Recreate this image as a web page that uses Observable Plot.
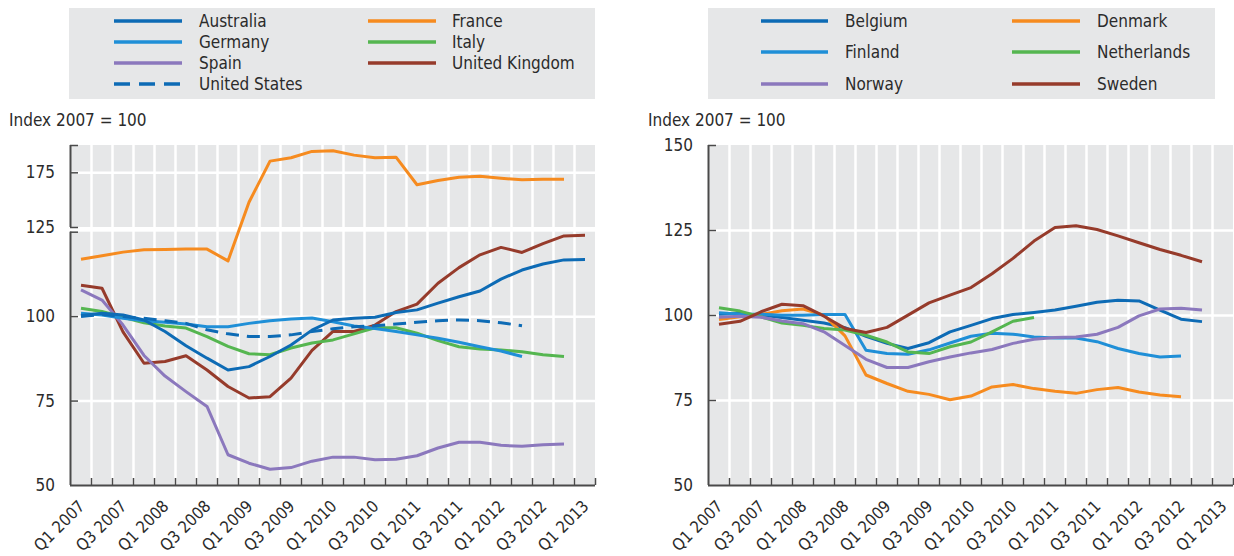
<!DOCTYPE html>
<html>
<head>
<meta charset="utf-8">
<script src="https://cdn.jsdelivr.net/npm/d3@7"></script>
<script src="https://cdn.jsdelivr.net/npm/@observablehq/plot@0.6"></script>
<style>
  body { margin: 0; background: #fff; }
  #root { position: relative; width: 1234px; height: 556px; overflow: hidden;
          font-family: "DejaVu Sans Condensed", "DejaVu Sans", sans-serif; font-stretch: condensed; color: #2b2b2b; }
  .box { position: absolute; background: #e6e7e8; }
  .lbl { position: absolute; font-size: 17px; line-height: 20px; white-space: nowrap; }
  .panel { position: absolute; top: 130px; }
</style>
</head>
<body>
<div id="root"></div>
<script>
// ---------- DATA ----------
const quarters = ["Q1 2007","Q2 2007","Q3 2007","Q4 2007","Q1 2008","Q2 2008","Q3 2008","Q4 2008",
  "Q1 2009","Q2 2009","Q3 2009","Q4 2009","Q1 2010","Q2 2010","Q3 2010","Q4 2010",
  "Q1 2011","Q2 2011","Q3 2011","Q4 2011","Q1 2012","Q2 2012","Q3 2012","Q4 2012","Q1 2013"];
const shownQuarterLabels = ["Q1 2007","Q3 2007","Q1 2008","Q3 2008","Q1 2009","Q3 2009","Q1 2010",
  "Q3 2010","Q1 2011","Q3 2011","Q1 2012","Q3 2012","Q1 2013"];
const yAxisTitle = "Index 2007 = 100";

// Left panel (broken axis: lower segment 50–125, compressed upper segment 125–200)
const leftLowerTicks = [50, 75, 100, 125];
const leftUpperTicks = [125, 175, 200];
const leftLowerLabels = [50, 75, 100];
const leftUpperLabels = [125, 175];

const australia = [100.3,101.0,100.5,99.0,95.6,91.4,87.7,84.2,85.2,88.2,91.6,96.0,99.0,99.5,99.8,101.2,102.0,104.0,105.9,107.6,111.1,113.8,115.6,116.8,116.9];
const france = [117.0,118.0,119.1,119.8,119.9,120.0,120.0,116.5,148.1,185.7,188.8,194.6,195.2,191.2,188.8,189.3,164.1,168.0,171.0,171.9,170.1,168.6,169.2,169.2];
const germany = [101.0,100.5,99.5,98.8,98.3,97.8,97.0,97.0,98.0,98.8,99.3,99.6,98.5,97.2,96.5,95.6,94.6,93.6,92.4,91.1,89.8,88.2];
const italy = [102.5,101.5,99.8,98.2,97.2,96.6,94.1,91.2,89.0,88.7,90.7,92.2,93.1,94.9,96.7,96.7,95.1,92.9,91.1,90.4,90.1,89.6,88.7,88.2];
const spain = [107.9,104.9,97.5,88.5,82.4,77.8,73.4,59.1,56.6,54.8,55.3,57.2,58.4,58.4,57.6,57.8,58.8,61.1,62.8,62.8,61.9,61.6,62.1,62.3];
const unitedKingdom = [109.3,108.4,95.5,86.2,86.7,88.4,84.2,79.3,75.9,76.3,81.8,90.0,95.6,95.6,97.5,101.5,103.7,109.9,114.5,118.3,120.5,119.0,121.6,123.9,124.1];
const unitedStates = [100.0,100.7,100.0,99.5,98.8,98.0,96.1,94.9,94.1,94.1,94.6,95.6,96.4,97.0,97.3,97.8,98.3,98.8,99.0,98.8,98.2,97.3];

// Right panel
const rightTicks = [50, 75, 100, 125, 150];
const belgium = [100.4,100.6,100.1,99.4,98.6,97.8,96.4,93.9,91.8,90.3,92.0,95.2,97.1,99.1,100.3,100.9,101.6,102.7,103.9,104.5,104.3,101.6,98.9,98.2];
const denmark = [98.8,99.6,100.3,101.4,101.9,100.1,94.0,82.5,80.0,77.7,76.8,75.2,76.3,79.0,79.7,78.5,77.7,77.1,78.2,78.8,77.5,76.6,76.1];
const finland = [100.8,100.4,100.4,100.1,100.1,100.3,100.3,89.8,88.8,88.6,89.9,91.9,93.9,94.8,94.5,93.7,93.4,93.4,92.3,90.3,88.8,87.8,88.1];
const netherlands = [102.3,101.3,99.6,97.8,97.1,96.2,95.7,94.2,92.2,89.3,88.8,90.8,92.2,95.2,98.3,99.4];
const norway = [99.5,99.8,99.5,98.4,97.6,95.2,91.2,87.1,84.7,84.7,86.4,87.8,89.0,90.0,91.8,93.0,93.5,93.7,94.5,96.5,99.9,101.9,102.1,101.6];
const sweden = [97.4,98.3,101.1,103.3,102.9,99.8,96.2,95.0,96.5,100.1,103.7,106.0,108.2,112.3,116.8,121.9,125.9,126.4,125.3,123.4,121.4,119.4,117.7,115.8];

// ---------- STYLE ----------
const C = {dark: "#0d6bb5", light: "#1f8fd7", purple: "#8b78bd", orange: "#f68b1f", green: "#55b650", brown: "#963b2b"};
const FONT = '"DejaVu Sans Condensed", "DejaVu Sans", sans-serif';
const AXIS = "#4a4a4a";
const BG = "#e6e7e8";
const TXT = "#2b2b2b";

// axis break: values above 125 are drawn on a compressed segment above a small gap
const BREAK = 125, GAP = 1.39, RATIO = 0.3237;
const lower = v => v;
const upper = v => BREAK + GAP + (v - BREAK) * RATIO;
const brk = v => (v <= BREAK ? lower(v) : upper(v));

const leftSeries = [
  {name: "Australia", values: australia, color: C.dark},
  {name: "France", values: france, color: C.orange},
  {name: "Germany", values: germany, color: C.light},
  {name: "Italy", values: italy, color: C.green},
  {name: "Spain", values: spain, color: C.purple},
  {name: "United Kingdom", values: unitedKingdom, color: C.brown},
  {name: "United States", values: unitedStates, color: C.dark, dash: "13,8"}
];
const rightSeries = [
  {name: "Belgium", values: belgium, color: C.dark},
  {name: "Denmark", values: denmark, color: C.orange},
  {name: "Finland", values: finland, color: C.light},
  {name: "Netherlands", values: netherlands, color: C.green},
  {name: "Norway", values: norway, color: C.purple},
  {name: "Sweden", values: sweden, color: C.brown}
];

const root = document.getElementById("root");

// ---------- LEGENDS & TITLES ----------
function addLegend(box, cols, rows, series) {
  const b = document.createElement("div");
  b.className = "box";
  Object.assign(b.style, {left: box[0] + "px", top: box[1] + "px", width: (box[2] - box[0]) + "px", height: (box[3] - box[1]) + "px"});
  root.appendChild(b);
  series.forEach((s, k) => {
    const col = cols[k % 2], row = rows[Math.floor(k / 2)];
    const svg = document.createElementNS("http://www.w3.org/2000/svg", "svg");
    svg.setAttribute("width", col.l2 - col.l1);
    svg.setAttribute("height", 6);
    Object.assign(svg.style, {position: "absolute", left: col.l1 + "px", top: (row - 3) + "px"});
    const ln = document.createElementNS("http://www.w3.org/2000/svg", "line");
    ln.setAttribute("x1", 0); ln.setAttribute("x2", col.l2 - col.l1);
    ln.setAttribute("y1", 3); ln.setAttribute("y2", 3);
    ln.setAttribute("stroke", s.color); ln.setAttribute("stroke-width", 3.5);
    if (s.dash) ln.setAttribute("stroke-dasharray", "16,9");
    svg.appendChild(ln);
    root.appendChild(svg);
    const t = document.createElement("div");
    t.className = "lbl";
    t.textContent = s.name;
    Object.assign(t.style, {left: col.t + "px", top: (row - 10) + "px"});
    root.appendChild(t);
  });
}
addLegend([69, 8, 595, 99], [{l1: 114, l2: 182, t: 199}, {l1: 368, l2: 436, t: 452}], [21, 42, 63, 84], leftSeries);
addLegend([708, 8, 1215, 99], [{l1: 761, l2: 828, t: 845}, {l1: 1012, l2: 1080, t: 1097}], [21, 52, 84], rightSeries);

function addTitle(x) {
  const t = document.createElement("div");
  t.className = "lbl";
  t.textContent = yAxisTitle;
  Object.assign(t.style, {left: x + "px", top: "110px"});
  root.appendChild(t);
}
addTitle(9);
addTitle(648);

// ---------- PLOTS ----------
const idx = quarters.map((q, i) => i);
const boundaries = idx.map(i => i + 0.5);               // band edges
const shownIdx = shownQuarterLabels.map(q => quarters.indexOf(q));

function lineMarks(series, f) {
  return series.map(s => Plot.line(s.values, {
    x: (d, i) => i, y: d => f(d), stroke: s.color, strokeWidth: 3,
    strokeDasharray: s.dash, strokeLinecap: "butt", strokeLinejoin: "round"
  }));
}
function xAxisMarks() {
  return [
    Plot.ruleY([50], {x1: -0.5, x2: 24.5, stroke: AXIS, strokeWidth: 2}),
    Plot.ruleX(boundaries, {y1: 50, y2: 50, insetTop: -7, stroke: AXIS, strokeWidth: 1.5}),
    Plot.text(shownIdx, {x: d => d, y: 50, text: d => quarters[d], rotate: -45, textAnchor: "end",
      dx: 1, dy: 18, fontSize: 16.5, fill: TXT})
  ];
}

// Left
const left = Plot.plot({
  width: 617, height: 426,
  marginLeft: 70, marginRight: 22, marginTop: 15, marginBottom: 71,
  x: {domain: [-0.5, 24.5], range: [70, 595], axis: null},
  y: {domain: [50, upper(200)], range: [355, 15], axis: null},
  style: {fontFamily: FONT, fontSize: "17px", background: "transparent", overflow: "visible"},
  marks: [
    Plot.rect([{a: lower(50), b: lower(125)}, {a: upper(125), b: upper(200)}], {x1: -0.5, x2: 24.5, y1: "a", y2: "b", fill: BG}),
    Plot.ruleY([lower(75), lower(100), upper(175)], {x1: -0.5, x2: 24.5, stroke: "white", strokeWidth: 2.5}),
    Plot.ruleX(boundaries.slice(0, -1), {stroke: "white", strokeWidth: 2.5}),
    ...lineMarks([leftSeries[1], leftSeries[5], leftSeries[4], leftSeries[3], leftSeries[2], leftSeries[6], leftSeries[0]], brk),
    Plot.ruleX([{a: lower(50), b: lower(125)}, {a: upper(125), b: upper(200)}], {x: -0.5, y1: "a", y2: "b", stroke: AXIS, strokeWidth: 2}),
    Plot.ruleY([...leftLowerTicks.slice(1).map(lower), ...leftUpperTicks.map(upper)], {x1: -0.5, x2: -0.5, insetRight: -8, stroke: AXIS, strokeWidth: 1.5}),
    Plot.text([...leftLowerLabels.map(v => ({v, p: lower(v)})), ...leftUpperLabels.map(v => ({v, p: upper(v)}))],
      {x: -0.5, y: "p", text: d => String(d.v), textAnchor: "end", dx: -15.5, fontSize: 17, fill: TXT}),
    ...xAxisMarks()
  ]
});
left.classList.add("panel");
left.style.left = "0px";
root.appendChild(left);

// Right
const right = Plot.plot({
  width: 617, height: 426,
  marginLeft: 91, marginRight: 1, marginTop: 15, marginBottom: 71,
  x: {domain: [-0.5, 24.5], range: [91, 616], axis: null},
  y: {domain: [50, 150], range: [355, 15], axis: null},
  style: {fontFamily: FONT, fontSize: "17px", background: "transparent", overflow: "visible"},
  marks: [
    Plot.rect([{a: 50, b: 150}], {x1: -0.5, x2: 24.5, y1: "a", y2: "b", fill: BG}),
    Plot.ruleY([75, 100, 125], {x1: -0.5, x2: 24.5, stroke: "white", strokeWidth: 2.5}),
    Plot.ruleX(boundaries.slice(0, -1), {stroke: "white", strokeWidth: 2.5}),
    ...lineMarks(rightSeries, v => v),
    Plot.ruleX([{a: 50, b: 150}], {x: -0.5, y1: "a", y2: "b", stroke: AXIS, strokeWidth: 2}),
    Plot.ruleY([75, 100, 125, 150], {x1: -0.5, x2: -0.5, insetRight: -8, stroke: AXIS, strokeWidth: 1.5}),
    Plot.text(rightTicks, {x: -0.5, y: d => d, text: d => String(d), textAnchor: "end", dx: -15.5, fontSize: 17, fill: TXT}),
    ...xAxisMarks()
  ]
});
right.classList.add("panel");
right.style.left = "617px";
root.appendChild(right);
</script>
</body>
</html>
